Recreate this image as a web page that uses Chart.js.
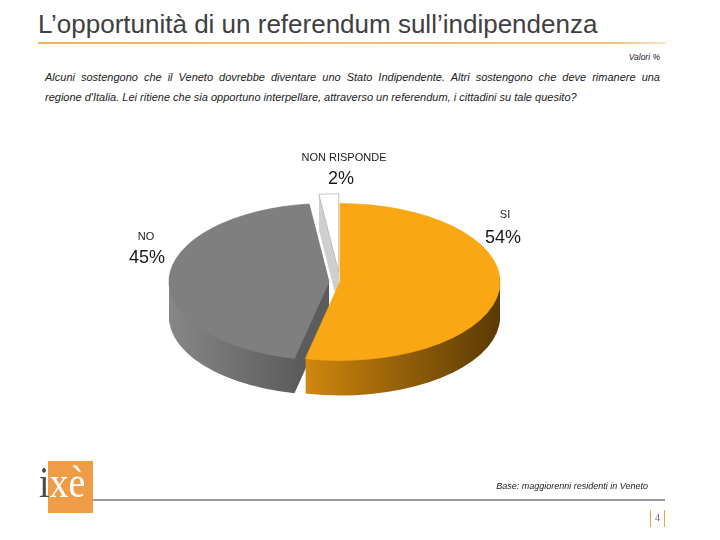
<!DOCTYPE html>
<html>
<head>
<meta charset="utf-8">
<script src="https://cdn.jsdelivr.net/npm/chart.js@4.4.1/dist/chart.umd.min.js"></script>
<style>
  html, body { margin: 0; padding: 0; background: #fff; }
  #page { position: relative; width: 720px; height: 540px; overflow: hidden; font-family: "Liberation Sans", Arial, sans-serif; }
  .abs { position: absolute; }
  #title { left: 38px; top: 9px; font-size: 26px; color: #404040; white-space: nowrap; }
  #rule { left: 38px; top: 42px; width: 628px; height: 2px; background: linear-gradient(to right, #f0b35a, #f3c27e 92%, #fbe6c8); }
  #unit { right: 60px; top: 52px; font-size: 8.5px; font-style: italic; color: #222; }
  #question { left: 45px; top: 67px; width: 615px; font-size: 11px; line-height: 20px; font-style: italic; color: #222; }
  #question .l1 { text-align: justify; text-align-last: justify; white-space: nowrap; }
  #base { right: 72px; top: 481px; font-size: 9px; font-style: italic; color: #222; }
  #foot { left: 93px; top: 499px; width: 572px; height: 2px; background: #9a9a9a; }
  #logoBox { left: 48px; top: 461px; width: 45px; height: 52px; background: #ee9c45; }
  #logo { left: 39px; top: 461px; font-family: "Liberation Serif", serif; font-size: 44px; line-height: 44px; white-space: nowrap; transform: scaleX(0.86); transform-origin: left top; }
  #logo .i { color: #4a4a4a; }
  #logo .xe { color: #fff; }
  .bar { top: 510px; width: 1px; height: 17px; background: #f0a040; }
  #pnum { left: 655px; top: 512px; font-family: "Liberation Serif", serif; font-size: 10px; color: #666; }
  #chart { position: absolute; left: 0; top: 0; }
</style>
</head>
<body>
<div id="page">
  <div class="abs" id="title">L’opportunità di un referendum sull’indipendenza</div>
  <div class="abs" id="rule"></div>
  <div class="abs" id="unit">Valori %</div>
  <div class="abs" id="question">
    <div class="l1">Alcuni sostengono che il Veneto dovrebbe diventare uno Stato Indipendente. Altri sostengono che deve rimanere una</div>
    <div>regione d'Italia. Lei ritiene che sia opportuno interpellare, attraverso un referendum, i cittadini su tale quesito?</div>
  </div>
  <canvas id="chart" width="720" height="540"></canvas>
  <div class="abs" id="logoBox"></div>
  <div class="abs" id="logo"><span class="i">i</span><span class="xe">xè</span></div>
  <div class="abs" id="base">Base: maggiorenni residenti in Veneto</div>
  <div class="abs" id="foot"></div>
  <div class="abs bar" style="left:650px"></div>
  <div class="abs bar" style="left:664px"></div>
  <div class="abs" id="pnum">4</div>
</div>
<script>
// risposte e percentuali
const categories = ["SI", "NO", "NON RISPONDE"];
const values = [54, 45, 2];

const topColors = ["#f9a713", "#7f7f7f", "#ffffff"];
const edgeColors = ["#f9a713", "#7f7f7f", "#b0b0b0"];

// finto 3D: schiacciamento, spessore, esplosione delle fette
const tilt = 0.49;
const depth = 35;
const explode = [0, 11, 20];
// posizione etichette rispetto al centro (nome, percentuale)
const labelPos = [[165, -67, 163, -44], [-194, -45, -193, -24], [4, -124, 1, -103]];

function sideFills(ctx, cx, r) {
    const orange = ctx.createLinearGradient(cx - 45, 0, cx + r, 0);
    orange.addColorStop(0, "#d98c0e");
    orange.addColorStop(0.45, "#9c650a");
    orange.addColorStop(1, "#5a3a05");
    const gray = ctx.createLinearGradient(cx - r - 10, 0, cx - 30, 0);
    gray.addColorStop(0, "#8a8a8a");
    gray.addColorStop(1, "#5c5c5c");
    return [orange, gray, "#cfcfcf"];
}

const pie3d = {
    id: "pie3d",
    beforeDatasetsDraw(chart) {
        const ctx = chart.ctx;
        const arcs = chart.getDatasetMeta(0).data;
        if (!arcs.length) {
            return;
        }
        const cx = arcs[0].x;
        const cy = arcs[0].y;
        const sides = sideFills(ctx, cx, arcs[0].outerRadius);
        const place = (arc, i, dy) => {
            ctx.translate(cx, cy + dy);
            ctx.scale(1, tilt);
            ctx.translate(-cx, -cy);
            const mid = (arc.startAngle + arc.endAngle) / 2;
            ctx.translate(Math.cos(mid) * explode[i], Math.sin(mid) * explode[i]);
        };
        for (let k = depth; k >= 1; k--) {
            arcs.forEach((arc, i) => {
                ctx.save();
                place(arc, i, k);
                ctx.beginPath();
                ctx.moveTo(arc.x, arc.y);
                ctx.arc(arc.x, arc.y, arc.outerRadius, arc.startAngle, arc.endAngle);
                ctx.closePath();
                ctx.fillStyle = sides[i];
                ctx.fill();
                ctx.restore();
            });
        }
        arcs.forEach((arc, i) => {
            ctx.save();
            place(arc, i, 0);
            arc.draw(ctx);
            ctx.restore();
        });

        ctx.save();
        ctx.textAlign = "center";
        ctx.textBaseline = "middle";
        ctx.fillStyle = "#1a1a1a";
        categories.forEach((name, i) => {
            const p = labelPos[i];
            ctx.font = "11px 'Liberation Sans', Arial, sans-serif";
            ctx.fillText(name, cx + p[0], cy + p[1]);
            ctx.font = "18px 'Liberation Sans', Arial, sans-serif";
            ctx.fillText(values[i] + "%", cx + p[2], cy + p[3]);
        });
        ctx.restore();
        return false;
    },
};

new Chart(document.getElementById("chart"), {
    type: "pie",
    data: {
        labels: categories,
        datasets: [{
            data: values,
            backgroundColor: topColors,
            borderColor: edgeColors,
            borderWidth: 1,
            radius: 160,
        }],
    },
    options: {
        responsive: false,
        animation: false,
        layout: { padding: { left: 0, right: 40, top: 24, bottom: 0 } },
        plugins: {
            legend: { display: false },
            tooltip: { enabled: false },
        },
    },
    plugins: [pie3d],
});
</script>
</body>
</html>
